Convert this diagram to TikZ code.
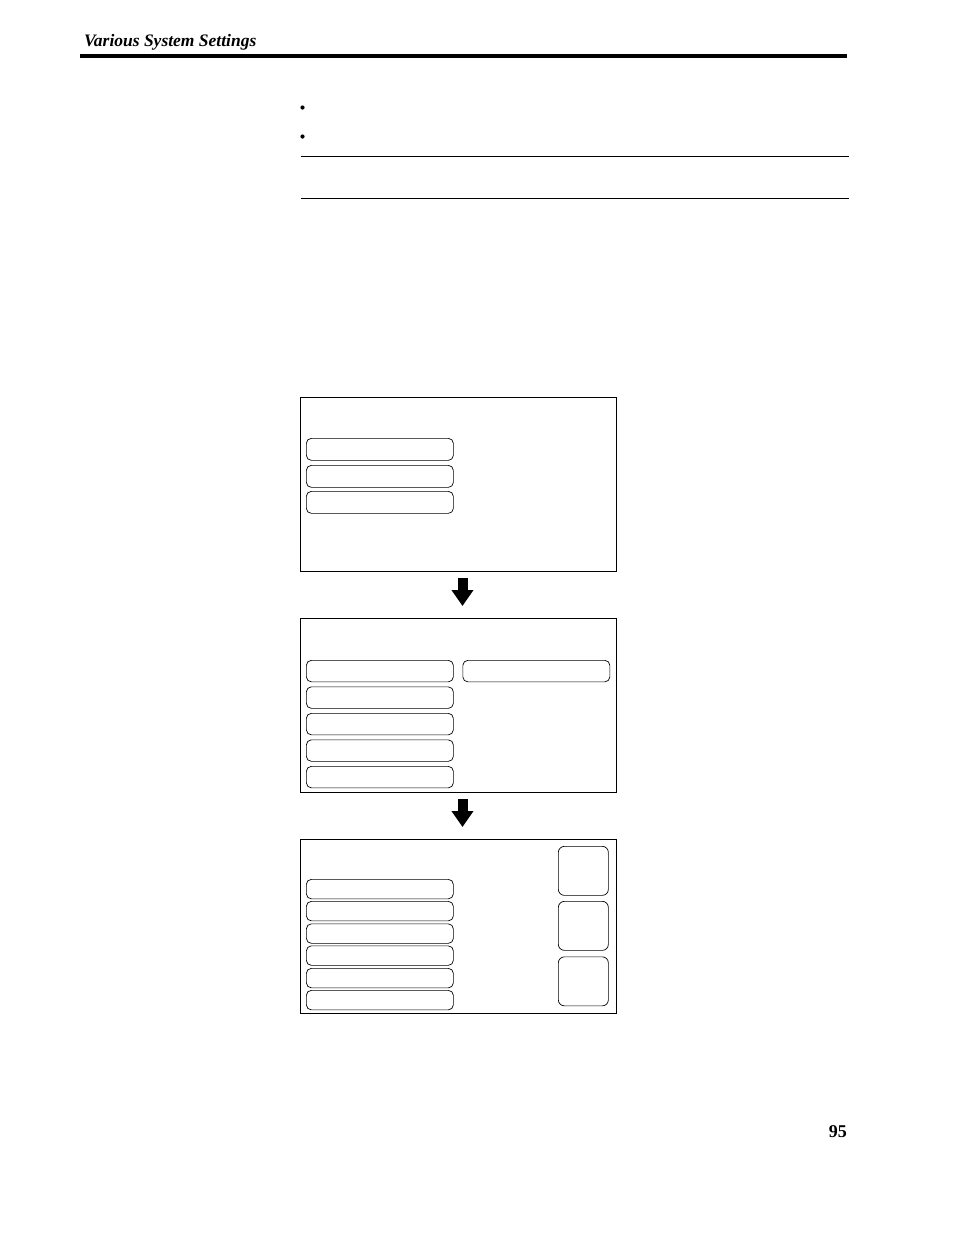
\documentclass[tikz,border=0pt]{standalone}
\usepackage{fontspec}
\setmainfont{Liberation Serif}
\usetikzlibrary{arrows.meta}
\begin{document}
\begin{tikzpicture}[x=1pt,y=-1pt,
  screen/.style={draw,line width=0.9pt,anchor=north west,inner sep=0pt,minimum width=316pt,minimum height=174pt},
  btn/.style={draw,line width=0.7pt,rounded corners=5pt,anchor=north west,inner sep=0pt,minimum width=147pt},
  sqbtn/.style={draw,line width=0.7pt,rounded corners=6pt,anchor=north west,inner sep=0pt,minimum width=50pt,minimum height=49pt},
  flow/.style={line width=10pt,-{Triangle[length=16pt,width=21pt]},shorten <=7pt,shorten >=12pt},
  dot/.style={circle,fill,inner sep=0pt,minimum size=4.2pt}]
\useasboundingbox (0,0) rectangle (954,1235);
% header
\node[anchor=base west,inner sep=0pt,font=\fontsize{17.5}{19}\selectfont\bfseries\itshape] (hdr) at (84,46) {Various System Settings};
\draw[line width=4.6pt] (80,56) coordinate (r1) -- (847,56) coordinate (r2);
% bullets and rules
\node[dot] (d1) at (302.5,107.5) {};
\node[dot] (d2) at (302.5,136.5) {};
\draw[line width=0.9pt] (301,156.5) coordinate (l1a) -- (849,156.5) coordinate (l1b);
\draw[line width=0.9pt] (301,198.5) coordinate (l2a) -- (849,198.5) coordinate (l2b);
% screen 1
\node[screen] (s1) at (300,397) {};
\node[btn,minimum height=22pt] (a1) at (306,438) {};
\node[btn,minimum height=22pt] (a2) at (306,465) {};
\node[btn,minimum height=22pt] (a3) at (306,491) {};
% screen 2
\node[screen] (s2) at (300,618) {};
\node[btn,minimum height=21.5pt] (b1) at (306,660) {};
\node[btn,minimum height=21.5pt] (b2) at (306,686.5) {};
\node[btn,minimum height=21.5pt] (b3) at (306,713) {};
\node[btn,minimum height=21.5pt] (b4) at (306,739.5) {};
\node[btn,minimum height=21.5pt] (b5) at (306,766) {};
\node[btn,minimum height=21.5pt] (b6) at (462.5,660) {};
% screen 3
\node[screen] (s3) at (300,839) {};
\node[btn,minimum height=19.5pt] (c1) at (306,879) {};
\node[btn,minimum height=19.5pt] (c2) at (306,901) {};
\node[btn,minimum height=19.5pt] (c3) at (306,923.5) {};
\node[btn,minimum height=19.5pt] (c4) at (306,945.5) {};
\node[btn,minimum height=19.5pt] (c5) at (306,968) {};
\node[btn,minimum height=19.5pt] (c6) at (306,990) {};
\node[sqbtn] (q1) at (558,846) {};
\node[sqbtn] (q2) at (558,901) {};
\node[sqbtn] (q3) at (558,956.5) {};
% arrows
\coordinate (t1) at (462.5,571);
\coordinate (h1) at (462.5,618);
\coordinate (t2) at (462.5,792);
\coordinate (h2) at (462.5,839);
\draw[flow] (t1) -- (h1);
\draw[flow] (t2) -- (h2);
% page number
\node[anchor=base east,inner sep=0pt,font=\fontsize{18}{20}\selectfont\bfseries] (pg) at (847,1137) {95};
\end{tikzpicture}
\end{document}
